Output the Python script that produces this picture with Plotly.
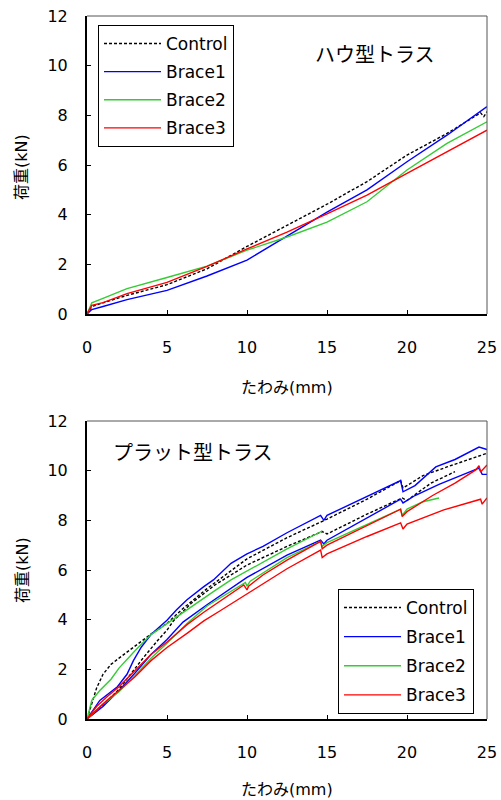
import plotly.graph_objects as go

# ---------------- data: top chart (ハウ型トラス) ----------------
top_ctrl_x = [0, 0.3, 1, 2.5, 5, 7.5, 10, 12.5, 15, 17.5, 20, 22.5, 24.6, 24.8, 25]
top_ctrl_y = [0, 0.3, 0.45, 0.75, 1.18, 1.82, 2.72, 3.56, 4.42, 5.33, 6.4, 7.27, 8.1, 7.95, 8.15]
top_b1_x = [0, 0.3, 1, 2.5, 5, 7.5, 10, 12.5, 15, 17.5, 20, 22.5, 25]
top_b1_y = [0, 0.18, 0.3, 0.58, 0.95, 1.53, 2.17, 3.15, 4.1, 5.0, 6.13, 7.2, 8.35]
top_b2_x = [0, 0.3, 1, 2.5, 5, 7.5, 10, 12.5, 15, 17.5, 20, 22.5, 25]
top_b2_y = [0, 0.45, 0.63, 1.02, 1.47, 1.93, 2.57, 3.1, 3.7, 4.52, 5.8, 6.87, 7.74]
top_b3_x = [0, 0.3, 1, 2.5, 5, 7.5, 10, 12.5, 15, 17.5, 20, 22.5, 25]
top_b3_y = [0, 0.35, 0.46, 0.82, 1.27, 1.92, 2.62, 3.3, 4.03, 4.79, 5.66, 6.54, 7.4]

# ---------------- data: bottom chart (プラット型トラス), two specimens each ----------------
bot_ctrl_a_x = [0, 0.3, 0.6, 1, 1.5, 2, 3, 4, 5, 6, 7.5, 10, 12.5, 15, 17.5, 19.6, 19.75, 21, 22.5, 25]
bot_ctrl_a_y = [0, 0.6, 1.25, 1.8, 2.2, 2.45, 2.95, 3.42, 3.85, 4.45, 5.25, 6.45, 7.3, 8.05, 8.85, 9.6, 9.3, 9.8, 10.15, 10.7]
bot_ctrl_b_x = [0, 1, 2, 2.7, 3.5, 4.4, 5, 5.4, 6.5, 8, 10, 12.5, 14.7, 15, 17.5, 19.7, 20, 21.5, 23]
bot_ctrl_b_y = [0, 0.55, 1.2, 1.8, 2.45, 3.15, 3.58, 3.95, 4.65, 5.4, 6.2, 6.95, 7.55, 7.45, 8.25, 8.9, 8.8, 9.5, 9.96]

bot_b1_a_x = [0, 0.8, 1.9, 2.5, 2.9, 3.4, 4, 5, 5.6, 6.25, 7.3, 7.9, 9, 10, 11, 12.5, 14.6, 14.8, 15, 17.5, 19.6, 19.75, 20.5, 21.8, 23, 24.5, 25]
bot_b1_a_y = [0, 0.75, 1.3, 1.8, 2.35, 2.9, 3.4, 3.98, 4.4, 4.8, 5.33, 5.6, 6.27, 6.65, 6.95, 7.5, 8.2, 8.0, 8.2, 8.95, 9.6, 9.15, 9.4, 10.15, 10.45, 10.95, 10.85]
bot_b1_b_x = [0, 1, 2, 3, 4, 5, 6, 7.5, 10, 12.5, 14.6, 14.8, 15, 17.5, 19.6, 19.75, 20.5, 22, 23.5, 24.5, 24.7, 25]
bot_b1_b_y = [0, 0.5, 1.15, 1.85, 2.6, 3.2, 3.9, 4.6, 5.7, 6.6, 7.2, 7.05, 7.2, 8.1, 8.85, 8.7, 9.0, 9.45, 9.85, 10.1, 9.85, 9.85]

bot_b2_a_x = [0, 0.3, 0.8, 1.5, 2, 3, 4, 5, 6.25, 7.9, 9, 10, 12.5, 14.5, 14.7]
bot_b2_a_y = [0, 0.75, 1.15, 1.6, 2.05, 2.75, 3.4, 3.85, 4.42, 5.13, 5.6, 5.95, 6.85, 7.5, 7.58]
bot_b2_b_x = [0, 1, 2, 3, 4, 5, 6.25, 7.5, 9.9, 10, 10.2, 12.5, 14.6, 14.7, 15, 17.5, 19.6, 19.7, 20, 21, 22]
bot_b2_b_y = [0, 0.6, 1.1, 1.75, 2.45, 3.05, 3.85, 4.55, 5.5, 5.35, 5.55, 6.5, 7.15, 6.95, 7.1, 7.85, 8.45, 8.2, 8.45, 8.75, 8.9]

bot_b3_a_x = [0, 0.6, 1.25, 2, 3, 4, 5, 6.25, 7.3, 8.3, 9.8, 10, 10.1, 11, 12.5, 14.6, 14.7, 15, 17.5, 19.6, 19.7, 20, 21.6, 23, 24.3, 24.5, 24.6, 25]
bot_b3_a_y = [0, 0.5, 0.9, 1.3, 1.95, 2.6, 3.1, 3.8, 4.3, 4.75, 5.4, 5.2, 5.35, 5.8, 6.4, 7.15, 6.85, 7.0, 7.8, 8.45, 8.15, 8.35, 9.0, 9.5, 10.03, 10.2, 9.95, 10.23]
bot_b3_b_x = [0, 1.25, 2, 3, 4, 5, 6.25, 7.3, 8.3, 10, 12.5, 14.6, 14.7, 15, 17.5, 19.6, 19.75, 20, 22.3, 24.6, 24.7, 25]
bot_b3_b_y = [0, 0.75, 1.15, 1.7, 2.35, 2.88, 3.45, 3.95, 4.35, 5.05, 6.05, 6.8, 6.5, 6.65, 7.35, 7.9, 7.65, 7.85, 8.42, 8.85, 8.65, 8.9]

series_names = ["Control", "Brace1", "Brace2", "Brace3"]
x_ticks = [0, 5, 10, 15, 20, 25]
y_ticks = [0, 2, 4, 6, 8, 10, 12]
top_title = "ハウ型トラス"
bot_title = "プラット型トラス"
x_label = "たわみ(mm)"
y_label = "荷重(kN)"

# ---------------- styling ----------------
colors = {"Control": "#000000", "Brace1": "#0000ff", "Brace2": "#33cc33", "Brace3": "#ff0000"}
dashes = {"Control": "3px,2px", "Brace1": "solid", "Brace2": "solid", "Brace3": "solid"}
LAT = "DejaVu Sans, Noto Sans CJK JP, sans-serif"
JP = "Noto Sans CJK JP, sans-serif"
LW = 1.4

fig = go.Figure()

top_data = {
    "Control": [(top_ctrl_x, top_ctrl_y)],
    "Brace1": [(top_b1_x, top_b1_y)],
    "Brace2": [(top_b2_x, top_b2_y)],
    "Brace3": [(top_b3_x, top_b3_y)],
}
bot_data = {
    "Control": [(bot_ctrl_a_x, bot_ctrl_a_y), (bot_ctrl_b_x, bot_ctrl_b_y)],
    "Brace1": [(bot_b1_a_x, bot_b1_a_y), (bot_b1_b_x, bot_b1_b_y)],
    "Brace2": [(bot_b2_a_x, bot_b2_a_y), (bot_b2_b_x, bot_b2_b_y)],
    "Brace3": [(bot_b3_a_x, bot_b3_a_y), (bot_b3_b_x, bot_b3_b_y)],
}

for name in series_names:
    for i, (xs, ys) in enumerate(top_data[name]):
        fig.add_trace(go.Scatter(
            x=xs, y=ys, mode="lines", name=name,
            line=dict(color=colors[name], width=LW, dash=dashes[name]),
            xaxis="x", yaxis="y", legend="legend", legendgroup="t" + name,
            showlegend=(i == 0)))

for name in series_names:
    for i, (xs, ys) in enumerate(bot_data[name]):
        fig.add_trace(go.Scatter(
            x=xs, y=ys, mode="lines", name=name,
            line=dict(color=colors[name], width=LW, dash=dashes[name]),
            xaxis="x2", yaxis="y2", legend="legend2", legendgroup="b" + name,
            showlegend=(i == 0)))

ML, MR, MT, MB = 87, 14, 16, 81
H = 800
PH = H - MT - MB
top_d0 = (719 - 314) / PH
bot_d1 = (719 - 421) / PH

axis_common = dict(
    showline=True, linecolor="black", linewidth=2, mirror=False,
    ticks="inside", ticklen=4, tickwidth=1, tickcolor="black",
    showgrid=False, zeroline=False, automargin=False,
    tickfont=dict(family=LAT, size=16, color="black"),
)

fig.update_layout(
    width=501, height=H,
    margin=dict(l=ML, r=MR, t=MT, b=MB, autoexpand=False),
    paper_bgcolor="white", plot_bgcolor="white",
    xaxis=dict(domain=[0, 1], anchor="y", range=[0, 25], tickvals=x_ticks,
               ticklabelstandoff=18, **axis_common),
    yaxis=dict(domain=[top_d0, 1], anchor="x", range=[0, 12], tickvals=y_ticks,
               ticklabelstandoff=14, **axis_common),
    xaxis2=dict(domain=[0, 1], anchor="y2", range=[0, 25], tickvals=x_ticks,
                ticklabelstandoff=18, **axis_common),
    yaxis2=dict(domain=[0, bot_d1], anchor="x2", range=[0, 12], tickvals=y_ticks,
                ticklabelstandoff=14, **axis_common),
    legend=dict(x=(98 - ML) / 400, y=1 - (25 - MT) / PH, xanchor="left", yanchor="top",
                bgcolor="white", bordercolor="black", borderwidth=1,
                font=dict(family=LAT, size=17, color="black"),
                tracegroupgap=3, itemwidth=57),
    legend2=dict(x=(338 - ML) / 400, y=(719 - 589) / PH, xanchor="left", yanchor="top",
                 bgcolor="white", bordercolor="black", borderwidth=1,
                 font=dict(family=LAT, size=17, color="black"),
                 tracegroupgap=4, itemwidth=57),
    showlegend=True,
)

# thin top/right frame lines
for xr, yr in [("x", "y"), ("x2", "y2")]:
    fig.add_shape(type="line", xref=xr + " domain", yref=yr + " domain",
                  x0=0, x1=1, y0=1, y1=1, line=dict(color="#555555", width=1))
    fig.add_shape(type="line", xref=xr + " domain", yref=yr + " domain",
                  x0=1, x1=1, y0=0, y1=1, line=dict(color="#555555", width=1))

def px_x(p):
    return (p - ML) / 400

def px_y(p):
    return (H - MB - p) / PH

ann = [
    dict(text=top_title, x=px_x(375), y=px_y(53), font=dict(family=JP, size=20, color="black")),
    dict(text=bot_title, x=px_x(193), y=px_y(452), font=dict(family=JP, size=20, color="black")),
    dict(text=x_label, x=px_x(287), y=px_y(387), font=dict(family=LAT, size=16, color="black")),
    dict(text=x_label, x=px_x(287), y=px_y(789), font=dict(family=LAT, size=16, color="black")),
    dict(text=y_label, x=px_x(22), y=px_y(167), textangle=-90, font=dict(family=LAT, size=16, color="black")),
    dict(text=y_label, x=px_x(22), y=px_y(570), textangle=-90, font=dict(family=LAT, size=16, color="black")),
]
for a in ann:
    fig.add_annotation(xref="paper", yref="paper", showarrow=False,
                       xanchor="center", yanchor="middle", **a)

fig.write_html("out.html",
               config={"displayModeBar": False},
               post_script="document.body.style.margin='0';document.body.style.padding='0';")
